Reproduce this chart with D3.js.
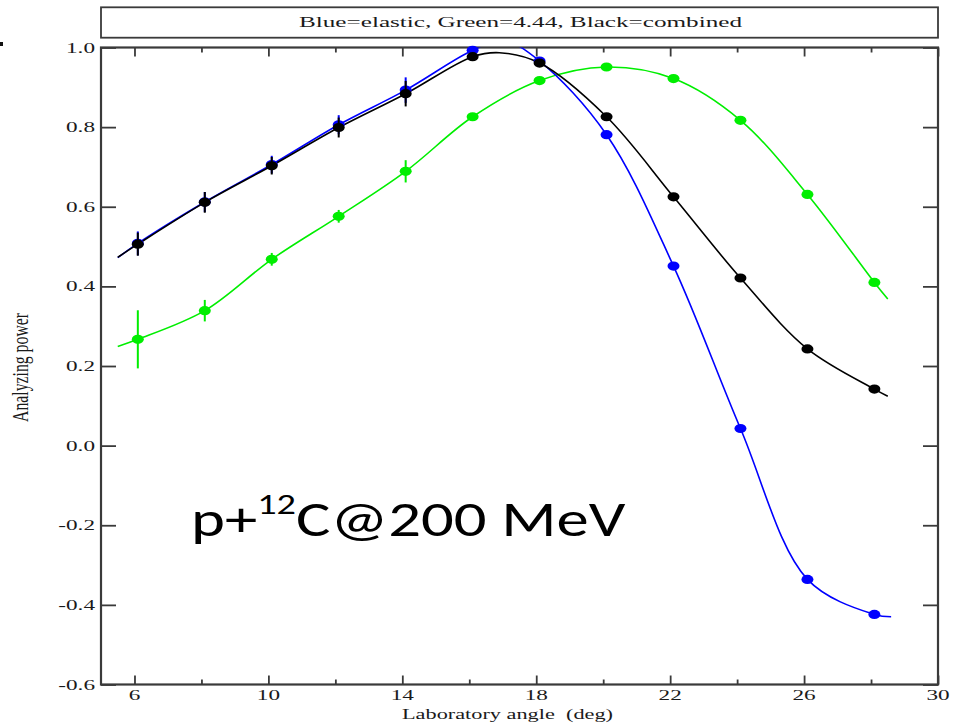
<!DOCTYPE html>
<html><head><meta charset="utf-8">
<script src="https://cdn.jsdelivr.net/npm/d3@7"></script>
<style>body{margin:0;background:#fff}svg{display:block}</style>
</head><body>
<svg id="c" width="961" height="725"></svg>
<script>
// ---------- data ----------
const angles      = [6.1, 8.1, 10.1, 12.1, 14.1, 16.1, 18.1, 20.1, 22.1, 24.1, 26.1, 28.1];
const blueVals    = [0.508, 0.612, 0.706, 0.806, 0.893, 0.993, 0.966, 0.781, 0.451, 0.043, -0.336, -0.424];
const blueErr     = [0.030, 0.025, 0.022, 0.024, 0.032, 0.006, 0.006, 0.005, 0.005, 0.005, 0.005, 0.005];
const greenVals   = [0.267, 0.339, 0.468, 0.576, 0.689, 0.826, 0.917, 0.951, 0.922, 0.817, 0.631, 0.410];
const greenErr    = [0.073, 0.027, 0.016, 0.016, 0.028, 0.006, 0.006, 0.005, 0.005, 0.005, 0.005, 0.005];
const blackVals   = [0.506, 0.611, 0.703, 0.799, 0.884, 0.977, 0.961, 0.826, 0.625, 0.421, 0.243, 0.142];
const blackErr    = [0.029, 0.026, 0.022, 0.025, 0.032, 0.006, 0.006, 0.005, 0.005, 0.005, 0.005, 0.005];

// fitted curves (nodes)
const blueFitX  = [5.5, 6.1, 8.1, 10.1, 12.1, 14.1, 16.1, 17.0, 18.1, 20.1, 22.1, 24.1, 26.1, 28.1, 28.6];
const blueFitY  = [0.472, 0.508, 0.612, 0.706, 0.806, 0.893, 0.993, 1.018, 0.966, 0.781, 0.451, 0.043, -0.336, -0.424, -0.430];
const greenFitX = [5.5, 6.1, 8.1, 10.1, 12.1, 14.1, 16.1, 18.1, 20.1, 22.1, 24.1, 26.1, 28.1, 28.5];
const greenFitY = [0.249, 0.267, 0.339, 0.468, 0.576, 0.689, 0.826, 0.917, 0.951, 0.922, 0.817, 0.631, 0.410, 0.368];
const blackFitX = [5.5, 6.1, 8.1, 10.1, 12.1, 14.1, 16.1, 16.9, 18.1, 20.1, 22.1, 24.1, 26.1, 28.1, 28.5];
const blackFitY = [0.473, 0.506, 0.611, 0.703, 0.799, 0.884, 0.977, 0.987, 0.961, 0.826, 0.625, 0.421, 0.243, 0.142, 0.124];

const xMajorTicks = [6, 10, 14, 18, 22, 26, 30];
const xMinorTicks = [8, 12, 16, 20, 24, 28];
const yTicks = [-0.6, -0.4, -0.2, 0.0, 0.2, 0.4, 0.6, 0.8, 1.0];
const yTickLabels = ["-0.6", "-0.4", "-0.2", "0.0", "0.2", "0.4", "0.6", "0.8", "1.0"];

const titleText = "Blue=elastic, Green=4.44, Black=combined";
const xLabel = "Laboratory angle \u00a0(deg)";
const yLabel = "Analyzing power";

// ---------- layout ----------
const L = 101, R = 938, T = 47.5, B = 684.5;
const svg = d3.select("#c");
const x = d3.scaleLinear().domain([5, 30]).range([L, R]);
const y = d3.scaleLinear().domain([-0.6, 1.0]).range([B, T]);
const axisColor = "#3a3a3a";
const serif = "'Liberation Serif','Times New Roman',serif";

svg.append("defs").append("clipPath").attr("id", "clip")
  .append("rect").attr("x", L).attr("y", T).attr("width", R - L).attr("height", B - T);

// title box
svg.append("rect").attr("x", L).attr("y", 7.3).attr("width", R - L).attr("height", 30.4)
  .attr("fill", "none").attr("stroke", axisColor).attr("stroke-width", 1.8);
svg.append("text").attr("x", 520.5).attr("y", 26.5)
  .attr("text-anchor", "middle").attr("font-family", serif).attr("font-size", 15.5)
  .attr("fill", "#1a1a1a")
  .attr("textLength", 443).attr("lengthAdjust", "spacingAndGlyphs")
  .text(titleText);

// small mark at top-left edge
svg.append("rect").attr("x", 0).attr("y", 42).attr("width", 3).attr("height", 4).attr("fill", "#111");

// axes (D3 axes for ticks)
const g = svg.append("g");
function styleAxis(sel) {
  sel.select(".domain").remove();
  sel.selectAll(".tick line").attr("stroke", axisColor).attr("stroke-width", 1.8);
  sel.selectAll(".tick text").remove();
}
g.append("g").attr("transform", `translate(0,${B})`)
  .call(d3.axisTop(x).tickValues(xMajorTicks).tickSize(9)).call(styleAxis);
g.append("g").attr("transform", `translate(0,${B})`)
  .call(d3.axisTop(x).tickValues(xMinorTicks).tickSize(5)).call(styleAxis);
g.append("g").attr("transform", `translate(0,${T})`)
  .call(d3.axisBottom(x).tickValues(xMajorTicks).tickSize(9)).call(styleAxis);
g.append("g").attr("transform", `translate(0,${T})`)
  .call(d3.axisBottom(x).tickValues(xMinorTicks).tickSize(5)).call(styleAxis);
g.append("g").attr("transform", `translate(${L},0)`)
  .call(d3.axisRight(y).tickValues(yTicks).tickSize(15)).call(styleAxis);
g.append("g").attr("transform", `translate(${R},0)`)
  .call(d3.axisLeft(y).tickValues(yTicks).tickSize(15)).call(styleAxis);

// frame
svg.append("rect").attr("x", L).attr("y", T).attr("width", R - L).attr("height", B - T)
  .attr("fill", "none").attr("stroke", axisColor).attr("stroke-width", 2.2);

// tick labels (horizontally stretched serif like the reference)
const sx = 1.6;
svg.append("g").selectAll("text").data(xMajorTicks).join("text")
  .attr("transform", d => `translate(${x(d)},${B + 15}) scale(${sx},1)`)
  .attr("text-anchor", "middle").attr("font-family", serif).attr("font-size", 14.5)
  .attr("fill", "#1a1a1a").text(d => d);
svg.append("g").selectAll("text").data(yTicks).join("text")
  .attr("transform", d => `translate(${L - 6},${y(d) + 5}) scale(${sx},1)`)
  .attr("text-anchor", "end").attr("font-family", serif).attr("font-size", 14.5)
  .attr("fill", "#1a1a1a").text((d, i) => yTickLabels[i]);

// axis labels
svg.append("text").attr("x", 507.5).attr("y", 719)
  .attr("text-anchor", "middle").attr("font-family", serif).attr("font-size", 15.5)
  .attr("fill", "#1a1a1a").attr("textLength", 211).attr("lengthAdjust", "spacingAndGlyphs")
  .text(xLabel);
svg.append("text")
  .attr("transform", `translate(28,367.5) rotate(-90) scale(1,1.6)`)
  .attr("text-anchor", "middle").attr("font-family", serif).attr("font-size", 14)
  .attr("fill", "#1a1a1a").attr("textLength", 109).attr("lengthAdjust", "spacingAndGlyphs")
  .text(yLabel);

// curves
const plot = svg.append("g").attr("clip-path", "url(#clip)");
const line = d3.line().x(d => x(d[0])).y(d => y(d[1])).curve(d3.curveCatmullRom.alpha(0.5));
const series = [
  { color: "#00ee00", fx: greenFitX, fy: greenFitY, v: greenVals, e: greenErr },
  { color: "#0000ff", fx: blueFitX,  fy: blueFitY,  v: blueVals,  e: blueErr },
  { color: "#000000", fx: blackFitX, fy: blackFitY, v: blackVals, e: blackErr }
];
series.forEach(s => {
  plot.append("path").datum(s.fx.map((d, i) => [d, s.fy[i]]))
    .attr("d", line).attr("fill", "none").attr("stroke", s.color).attr("stroke-width", 1.6);
});
series.forEach(s => {
  const pts = angles.map((a, i) => ({ a, v: s.v[i], e: s.e[i] }));
  const gg = svg.append("g");
  gg.selectAll("line").data(pts).join("line")
    .attr("x1", d => x(d.a)).attr("x2", d => x(d.a))
    .attr("y1", d => y(d.v + d.e)).attr("y2", d => y(d.v - d.e))
    .attr("stroke", s.color).attr("stroke-width", 2);
  gg.selectAll("ellipse").data(pts).join("ellipse")
    .attr("cx", d => x(d.a)).attr("cy", d => y(d.v))
    .attr("rx", 6).attr("ry", 4.6).attr("fill", s.color);
});

// annotation (stretched horizontally like the reference)
const ann = svg.append("text").attr("transform", "translate(191,536) scale(1.32,1)")
  .attr("font-family", "Carlito, Lato, 'Open Sans', sans-serif").attr("font-size", 49).attr("fill", "#000");
ann.append("tspan").text("p+");
ann.append("tspan").attr("font-size", 29).attr("dy", -22).text("12");
ann.append("tspan").attr("dy", 22).text("C@200 MeV");
</script>
</body></html>
